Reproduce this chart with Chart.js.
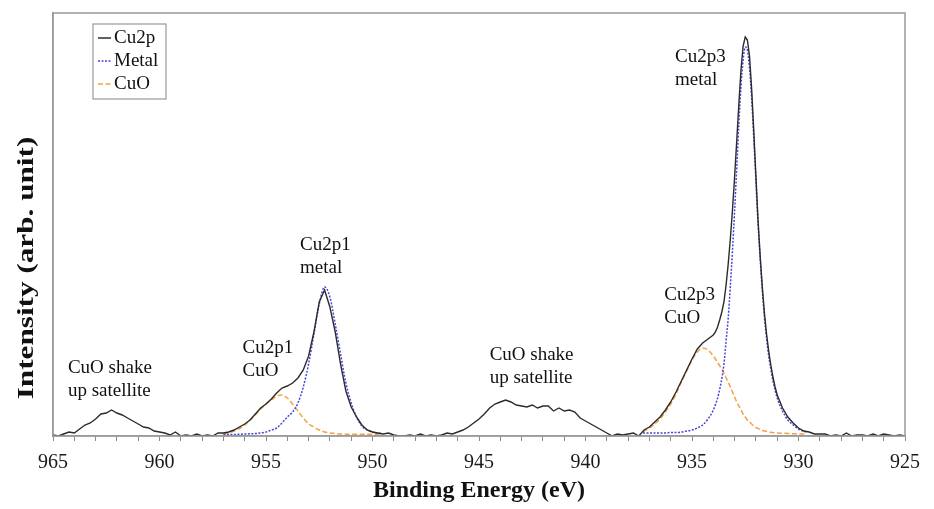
<!DOCTYPE html>
<html><head><meta charset="utf-8">
<script src="https://cdn.jsdelivr.net/npm/chart.js@4.4.1/dist/chart.umd.min.js"></script>
<style>html,body{margin:0;padding:0;background:#fff}#c{display:block}</style>
</head><body>
<canvas id="c" width="934" height="509"></canvas>
<script>
// Binding energy (eV) of the measured Cu2p spectrum
const energy = [
  965, 964.75, 964.5, 964.25, 964, 963.75, 963.5, 963.25, 963, 962.75, 962.5, 962.25,
  962, 961.75, 961.5, 961.25, 961, 960.75, 960.5, 960.25, 960, 959.75, 959.5, 959.25,
  959, 958.75, 958.5, 958.25, 958, 957.75, 957.5, 957.25, 957, 956.75, 956.5, 956.25,
  956, 955.75, 955.5, 955.25, 955, 954.75, 954.5, 954.25, 954, 953.75, 953.5, 953.25,
  953, 952.75, 952.5, 952.25, 952, 951.75, 951.5, 951.25, 951, 950.75, 950.5, 950.25,
  950, 949.75, 949.5, 949.25, 949, 948.75, 948.5, 948.25, 948, 947.75, 947.5, 947.25,
  947, 946.75, 946.5, 946.25, 946, 945.75, 945.5, 945.25, 945, 944.75, 944.5, 944.25,
  944, 943.75, 943.5, 943.25, 943, 942.75, 942.5, 942.25, 942, 941.75, 941.5, 941.25,
  941, 940.75, 940.5, 940.25, 940, 939.75, 939.5, 939.25, 939, 938.75, 938.5, 938.25,
  938, 937.75, 937.5, 937.25, 937, 936.75, 936.5, 936.25, 936, 935.75, 935.5, 935.25,
  935, 934.75, 934.5, 934.25, 934,
  933.9, 933.8, 933.7, 933.6, 933.5, 933.4, 933.3, 933.2, 933.1, 933.0,
  932.9, 932.8, 932.7, 932.6, 932.5, 932.4, 932.3, 932.2, 932.1, 932.0,
  931.9, 931.8, 931.7, 931.6, 931.5, 931.4, 931.3, 931.2, 931.1, 931.0,
  930.75, 930.5, 930.25, 930, 929.75, 929.5, 929.25, 929, 928.75, 928.5, 928.25, 928,
  927.75, 927.5, 927.25, 927, 926.75, 926.5, 926.25, 926, 925.75, 925.5, 925.25, 925
];
// Measured intensity (arb. unit)
const cu2p = [
  1, 0, 2, 4, 3, 7, 11, 13, 17, 22, 23, 26,
  23, 21, 18, 15, 12, 9, 8, 5, 4, 3, 1, 4,
  0, 1, 0, 2, 0, 1, 0, 3, 3, 4, 6, 9,
  12, 16, 22, 28, 32, 37, 43, 48, 50, 53, 58, 66,
  80, 104, 134, 146, 129, 104, 72, 45, 29, 19, 11, 6,
  4, 3, 2, 3, 1, 0, 0, 1, 0, 2, 0, 1,
  0, 1, 3, 2, 4, 6, 9, 13, 17, 22, 28, 32,
  34, 36, 34, 31, 30, 29, 31, 28, 30, 30, 25, 28,
  25, 26, 24, 18, 15, 12, 9, 6, 3, 0, 2, 1,
  2, 3, 0, 6, 9, 14, 19, 26, 34, 44, 55, 66,
  77, 87, 93, 97, 101,
  104, 109, 116, 124, 134, 151, 172, 197, 226, 259,
  295, 332, 366, 390, 399, 396, 380, 347, 305, 260,
  216, 180, 149, 123, 102, 85, 71, 59, 49, 41,
  28, 19, 13, 8, 5, 4, 2, 2, 2, 0, 1, 0,
  3, 0, 1, 1, 0, 2, 0, 2, 1, 0, 1, 0
];
// Fit window of the Cu2p1 region
const fitEnergy1 = [
  957, 956.75, 956.5, 956.25, 956, 955.75, 955.5, 955.25, 955, 954.75, 954.5, 954.25,
  954, 953.75, 953.5, 953.25, 953, 952.75, 952.5, 952.25, 952, 951.75, 951.5, 951.25,
  951, 950.75, 950.5, 950.25, 950, 949.8, 949.6
];
const metal1 = [
  1.5, 1.5, 1.5, 1.7, 2, 2.2, 2.5, 3, 4, 6, 8, 13,
  19, 24, 33, 49, 72, 102, 132, 149, 139, 112, 82, 53,
  33, 19, 10, 6, 4, 3, 2.5
];
const cuo1 = [
  2, 3, 5, 7.5, 11, 16, 21, 27, 32, 36, 40, 41,
  38, 32, 25, 18, 12, 9, 6, 4, 3, 2.5, 2, 1.8,
  1.7, 1.7, 1.7, 1.7, 1.7, 1.7, 1.7
];
// Fit window of the Cu2p3 region
const fitEnergy2 = [
  937.3, 937, 936.75, 936.5, 936.25, 936, 935.75, 935.5, 935.25, 935, 934.75, 934.5,
  934.25, 934, 933.75, 933.5, 933.4, 933.3, 933.2, 933.1, 933.0, 932.9, 932.8, 932.7,
  932.6, 932.5, 932.4, 932.3, 932.2, 932.1, 932.0, 931.9, 931.8, 931.7, 931.6, 931.5,
  931.4, 931.3, 931.2, 931.1, 931.0, 930.75, 930.5, 930.25, 930, 929.8, 929.6
];
const metal2 = [
  3, 3, 3, 3, 3, 3.5, 3.5, 4, 5, 6, 8, 11,
  17, 26, 42, 72, 95, 118, 150, 185, 225, 268, 312, 350,
  376, 389, 386, 368, 338, 298, 256, 213, 178, 146, 119, 98,
  80, 67, 55, 46, 38, 25, 16, 11, 7, 5, 4
];
const cuo2 = [
  4, 8, 12, 17, 24, 32, 42, 54, 65, 76, 84, 88,
  86, 80, 72, 63, 58, 54, 49, 44, 39, 34, 30, 26,
  22, 19, 16, 14, 12, 10, 8.5, 7.5, 6.5, 5.5, 5, 4.5,
  4, 3.7, 3.4, 3.2, 3, 2.8, 2.5, 2.3, 2.1, 2, 2
];
const seriesNames = ['Cu2p', 'Metal', 'CuO'];
const xTicksMin = 925, xTicksMax = 965, xLabelStep = 5;
const xTitle = 'Binding Energy (eV)';
const yTitle = 'Intensity (arb. unit)';
// Peak annotations: text lines, energy of left edge, intensity of first line
const noteLines = [['Cu2p3','metal'], ['Cu2p3','CuO'], ['Cu2p1','metal'], ['Cu2p1','CuO'], ['CuO shake','up satellite'], ['CuO shake','up satellite']];
const noteEnergy = [935.8, 936.3, 953.4, 956.1, 964.3, 944.5];
const noteLevel = [379, 141, 191, 88, 68, 81];

function pairs(xs, ys) { return xs.map((x, i) => ({x: x, y: ys[i]})); }
function joinWithGap(a, b) { return a.concat([{x: 943, y: null}], b); }

const SERIF = '"Liberation Serif", "Times New Roman", serif';

const framePlugin = {
  id: 'frame',
  afterDatasetsDraw(chart) {
    const {ctx, chartArea: a} = chart;
    ctx.save();
    ctx.strokeStyle = '#9a9a9a';
    ctx.lineWidth = 1.5;
    ctx.strokeRect(a.left, a.top, a.right - a.left, a.bottom - a.top);
    ctx.restore();
  }
};

const notesPlugin = {
  id: 'notes',
  afterDatasetsDraw(chart) {
    const {ctx, scales} = chart;
    ctx.save();
    ctx.fillStyle = '#111';
    ctx.font = '19px ' + SERIF;
    ctx.textAlign = 'left';
    ctx.textBaseline = 'middle';
    noteLines.forEach((lines, i) => {
      const x = scales.x.getPixelForValue(noteEnergy[i]);
      const y = scales.y.getPixelForValue(noteLevel[i]);
      lines.forEach((t, j) => ctx.fillText(t, x, y + j * 23));
    });
    // y axis title
    ctx.font = 'bold 24px ' + SERIF;
    ctx.textAlign = 'center';
    ctx.translate(27, 268);
    ctx.rotate(-Math.PI / 2);
    ctx.scale(1.3, 1);
    ctx.fillText(yTitle, 0, 0);
    ctx.restore();
  }
};

const legendPlugin = {
  id: 'boxLegend',
  afterDraw(chart) {
    const {ctx} = chart;
    const bx = 93, by = 24, bw = 73, bh = 75;
    ctx.save();
    ctx.fillStyle = '#fff';
    ctx.fillRect(bx, by, bw, bh);
    ctx.strokeStyle = '#999';
    ctx.lineWidth = 1.2;
    ctx.strokeRect(bx, by, bw, bh);
    ctx.font = '19px ' + SERIF;
    ctx.textBaseline = 'middle';
    ctx.textAlign = 'left';
    chart.data.datasets.forEach((ds, i) => {
      const y = by + 14 + i * 23;
      ctx.strokeStyle = ds.borderColor;
      ctx.lineWidth = 1.5;
      ctx.setLineDash(ds.borderDash || []);
      ctx.beginPath();
      ctx.moveTo(bx + 5, y);
      ctx.lineTo(bx + 18, y);
      ctx.stroke();
      ctx.setLineDash([]);
      ctx.fillStyle = '#111';
      ctx.fillText(ds.label, bx + 21, y);
    });
    ctx.restore();
  }
};

new Chart(document.getElementById('c'), {
  type: 'line',
  data: {
    datasets: [
      { label: seriesNames[0], data: pairs(energy, cu2p), borderColor: '#2b2b2b', borderWidth: 1.4,
        pointRadius: 0, tension: 0, fill: false },
      { label: seriesNames[1], data: joinWithGap(pairs(fitEnergy1, metal1), pairs(fitEnergy2, metal2)),
        borderColor: '#4646d6', borderWidth: 1.5, borderDash: [2, 1.5], pointRadius: 0,
        cubicInterpolationMode: 'monotone', fill: false, spanGaps: false },
      { label: seriesNames[2], data: joinWithGap(pairs(fitEnergy1, cuo1), pairs(fitEnergy2, cuo2)),
        borderColor: '#f5a043', borderWidth: 1.5, borderDash: [5, 2.5], pointRadius: 0,
        cubicInterpolationMode: 'monotone', fill: false, spanGaps: false }
    ]
  },
  options: {
    responsive: false,
    animation: false,
    devicePixelRatio: 1,
    layout: { padding: { left: 0, right: 29, top: 13, bottom: 0 } },
    plugins: { legend: { display: false }, tooltip: { enabled: false } },
    scales: {
      x: {
        type: 'linear', reverse: true, min: xTicksMin, max: xTicksMax,
        afterFit(s) { s.height = 73; },
        ticks: {
          stepSize: 1, autoSkip: false, maxRotation: 0, padding: 10,
          color: '#1a1a1a', font: { family: SERIF, size: 20 },
          callback: v => (v % xLabelStep === 0 ? String(v) : '')
        },
        grid: { display: true, drawOnChartArea: false, drawTicks: true, tickLength: 5, color: '#8a8a8a' },
        border: { display: true, color: '#9a9a9a', width: 1.5 },
        title: { display: true, text: xTitle, color: '#111', font: { family: SERIF, size: 24, weight: 'bold' },
                 padding: { top: 2, bottom: 4 } }
      },
      y: {
        min: 0, max: 423,
        afterFit(s) { s.width = 53; },
        ticks: { display: false },
        grid: { display: false },
        border: { display: true, color: '#9a9a9a', width: 1.5 },
        title: { display: false }
      }
    }
  },
  plugins: [framePlugin, notesPlugin, legendPlugin]
});
</script>
</body></html>
